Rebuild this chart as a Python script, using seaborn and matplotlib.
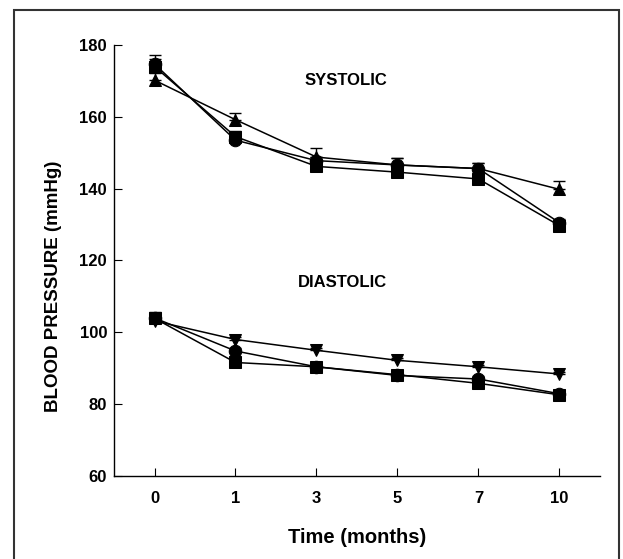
import matplotlib
matplotlib.use("Agg")
import matplotlib.pyplot as plt
import seaborn as sns
import pandas as pd
from matplotlib.patches import Rectangle

months = ["0", "1", "3", "5", "7", "10"]

sys_circle = [174.7, 153.5, 147.8, 146.6, 145.6, 130.5]
sys_square = [174.0, 154.5, 146.2, 144.6, 142.7, 129.7]
sys_triangle = [170.2, 159.2, 148.8, 146.6, 145.6, 139.8]
sys_circle_se = [2.5, 1.0, 1.0, 1.8, 1.5, 1.0]
sys_square_se = [2.0, 1.6, 1.0, 1.0, 1.0, 1.6]
sys_triangle_se = [2.0, 2.0, 2.5, 2.0, 1.5, 2.3]

dia_circle = [104.0, 94.8, 90.4, 88.0, 87.0, 82.9]
dia_square = [103.9, 91.6, 90.4, 88.2, 85.8, 82.6]
dia_triangle = [103.2, 98.0, 95.0, 92.2, 90.4, 88.4]
dia_circle_se = [1.7, 0.8, 0.8, 0.8, 0.8, 0.8]
dia_square_se = [1.5, 0.8, 0.8, 0.8, 0.8, 1.0]
dia_triangle_se = [1.2, 0.6, 0.6, 0.6, 0.6, 0.6]

series = [
    ("Systolic 1", sys_circle, sys_circle_se, "o"),
    ("Systolic 2", sys_square, sys_square_se, "s"),
    ("Systolic 3", sys_triangle, sys_triangle_se, "^"),
    ("Diastolic 1", dia_circle, dia_circle_se, "o"),
    ("Diastolic 2", dia_square, dia_square_se, "s"),
    ("Diastolic 3", dia_triangle, dia_triangle_se, "v"),
]

rows = []
for name, vals, se, mk in series:
    for i, (m, v, e) in enumerate(zip(months, vals, se)):
        rows.append({"series": name, "month": m, "pos": i, "bp": v, "se": e})
df = pd.DataFrame(rows)

sns.set_theme(style="ticks")
plt.rcParams["font.family"] = ["Liberation Sans", "DejaVu Sans"]
plt.rcParams["font.weight"] = "bold"
plt.rcParams["text.color"] = "black"
plt.rcParams["axes.labelcolor"] = "black"

fig = plt.figure(figsize=(6.23, 5.59), dpi=100)
ax = fig.add_axes([0.183, 0.1485, 0.78, 0.771])

names = [s[0] for s in series]
markers = {s[0]: s[3] for s in series}
palette = {n: "black" for n in names}

# error bars (upper only)
for name, vals, se, mk in series:
    sub = df[df["series"] == name]
    ax.errorbar(sub["pos"], sub["bp"], yerr=[[0] * len(sub), sub["se"]],
                fmt="none", ecolor="black", elinewidth=1.0, capsize=4,
                capthick=1.0, zorder=2)

sns.lineplot(data=df, x="pos", y="bp", hue="series", style="series",
             palette=palette, markers=markers, dashes=False, markersize=9,
             markeredgecolor="black", linewidth=1.1, legend=False, ax=ax,
             zorder=3)

ax.set_xlim(-0.5, len(months) - 0.5)
ax.set_ylim(60, 180)
ax.set_xticks(range(len(months)))
ax.set_xticklabels(months)
ax.set_yticks([60, 80, 100, 120, 140, 160, 180])
ax.tick_params(axis="both", direction="in", length=6, width=0.8,
               labelsize=12, colors="black")
ax.tick_params(axis="x", pad=11)
ax.tick_params(axis="y", pad=5)
for lab in ax.get_xticklabels() + ax.get_yticklabels():
    lab.set_fontweight("bold")

sns.despine(ax=ax)
for sp in ["left", "bottom"]:
    ax.spines[sp].set_linewidth(1.0)
    ax.spines[sp].set_color("black")

ax.set_xlabel("Time (months)", fontsize=14.5, fontweight="bold", labelpad=16)
ax.set_ylabel("BLOOD PRESSURE (mmHg)", fontsize=13.5, fontweight="bold")
ax.yaxis.set_label_coords(-0.108, 0.44)

ax.text(2.36, 170, "SYSTOLIC", ha="center", va="center", fontsize=12,
        fontweight="bold")
ax.text(2.32, 114, "DIASTOLIC", ha="center", va="center", fontsize=12,
        fontweight="bold")

fig.patches.append(Rectangle((14 / 623, -0.05), (619 - 14) / 623,
                             1.05 - 10 / 559, transform=fig.transFigure,
                             fill=False, edgecolor="#333333", linewidth=1.5))

fig.savefig("out.png", dpi=100, facecolor="white")
